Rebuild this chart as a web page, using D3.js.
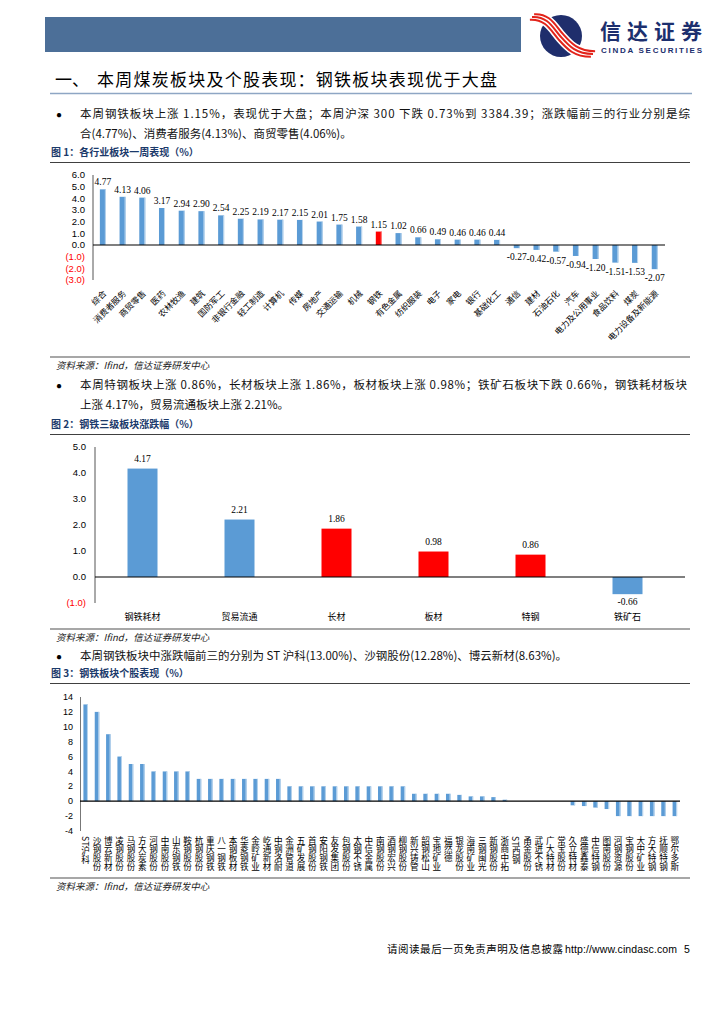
<!DOCTYPE html>
<html><head><meta charset="utf-8">
<script src="https://cdn.jsdelivr.net/npm/d3@7"></script>
<style>body{margin:0;background:#fff}svg{display:block}
.vlabel{writing-mode:vertical-rl;text-orientation:mixed;}
</style>
</head><body>
<svg id="page" width="724" height="1024"></svg>
<script>
// ---------- DATA ----------
const sectorNames = ["综合","消费者服务","商贸零售","医药","农林牧渔","建筑","国防军工","非银行金融","轻工制造","计算机","传媒","房地产","交通运输","机械","钢铁","有色金属","纺织服装","电子","家电","银行","基础化工","通信","建材","石油石化","汽车","电力及公用事业","食品饮料","煤炭","电力设备及新能源"];
const sectorValues = [4.77,4.13,4.06,3.17,2.94,2.90,2.54,2.25,2.19,2.17,2.15,2.01,1.75,1.58,1.15,1.02,0.66,0.49,0.46,0.46,0.44,-0.27,-0.42,-0.57,-0.94,-1.20,-1.51,-1.53,-2.07];
const sectorRed = ["钢铁"];
const sectorTicks = [6,5,4,3,2,1,0,-1,-2,-3];

const subNames = ["钢铁耗材","贸易流通","长材","板材","特钢","铁矿石"];
const subValues = [4.17,2.21,1.86,0.98,0.86,-0.66];
const subRed = ["长材","板材","特钢"];
const subTicks = [5,4,3,2,1,0,-1];

const stockNames = ["ST沪科","沙钢股份","博云新材","凌钢股份","马钢股份","方大炭素","河钢股份","中南股份","山东钢铁","鞍钢股份","杭钢股份","重庆钢铁","八一钢铁","本钢板材","华菱钢铁","金岭矿业","屹通新材","中钢洛耐","金洲管道","五矿发展","首钢股份","安阳钢铁","友发集团","包钢股份","太钢不锈","中信金属","南钢股份","酒钢宏兴","柳钢股份","新兴铸管","韶钢松山","宝地矿业","福然德","银龙股份","海南矿业","三钢闽光","新钢股份","浙商中拓","ST西钢","甬金股份","武进不锈","广大特材","常宝股份","久立特材","盛德鑫泰","中信特钢","图南股份","河钢资源","宝钢股份","大中矿业","方大特钢","抚顺特钢","鄂尔多斯"];
const stockValues = [13,12,9,6,5,5,4,4,4,4,3,3,3,3,3,3,3,3,2,2,2,2,2,2,2,2,2,2,2,1,1,1,1,0.85,0.65,0.65,0.55,0.2,0,0,0,0,0,-0.55,-0.65,-0.85,-1.05,-2,-2,-2,-2,-2,-2];
const stockTicks = [14,12,10,8,6,4,2,0,-2,-4];

// ---------- STYLE ----------
const CJK = "'Noto Sans CJK SC','Noto Sans',sans-serif";
const SERIF = "'Liberation Serif','Noto Sans CJK SC',serif";
const SANS = "'Liberation Sans','Noto Sans CJK SC',sans-serif";
const BLUE = "#5B9BD5", RED = "#FF0000", NAVY = "#1B3A6B";

const svg = d3.select("#page");

// ---------- HEADER ----------
svg.append("rect").attr("x",45).attr("y",17).attr("width",476).attr("height",35).attr("fill","#4C6F98");
const logo = svg.append("g");
logo.append("circle").attr("cx",561).attr("cy",36).attr("r",21).attr("fill","#1F2E6C");
const ribbon = "M532,17 C548,16 553,28 561,37 S576,54 593,54";
logo.append("path").attr("d",ribbon).attr("fill","none").attr("stroke","#fff").attr("stroke-width",12);
[-3.5,0,3.5].forEach(o=>{
  logo.append("path").attr("d",ribbon).attr("transform",`translate(${o*0.6},${-o*0.8})`)
    .attr("fill","none").attr("stroke","#E2231A").attr("stroke-width",2);
});
svg.append("text").attr("x",600).attr("y",39).attr("font-family",CJK).attr("font-weight","bold")
  .attr("font-size",21).attr("fill","#1C2F6E").attr("textLength",102).text("信达证券");
svg.append("text").attr("x",601).attr("y",53).attr("font-family",SANS).attr("font-weight","bold")
  .attr("font-size",8).attr("fill","#1C2F6E").attr("textLength",101).text("CINDA SECURITIES");

// Title
svg.append("text").attr("x",55).attr("y",86).attr("font-family",CJK).attr("font-size",17).attr("fill","#000").text("一、");
svg.append("text").attr("x",97).attr("y",86).attr("font-family",CJK).attr("font-size",17).attr("fill","#000")
  .attr("textLength",400).text("本周煤炭板块及个股表现：钢铁板块表现优于大盘");
svg.append("line").attr("x1",50).attr("x2",692).attr("y1",93.5).attr("y2",93.5).attr("stroke","#8EA6C4").attr("stroke-width",1.5);

function bullet(y, lines){
  svg.append("text").attr("x",56).attr("y",y).attr("font-family",SANS).attr("font-size",10).text("●");
  lines.forEach((l,i)=>{
    const t = svg.append("text").attr("x",80).attr("y",y+i*20).attr("font-family",CJK)
      .attr("font-size",11.5).attr("fill","#111").text(l.t);
    if(l.w) t.attr("textLength",l.w).attr("lengthAdjust","spacing");
  });
}
function caption(y, txt){
  svg.append("text").attr("x",51).attr("y",y).attr("font-family",CJK).attr("font-weight","bold")
    .attr("font-size",10).attr("fill",NAVY).text(txt);
  svg.append("line").attr("x1",50).attr("x2",690).attr("y1",y+6.5).attr("y2",y+6.5).attr("stroke","#404040").attr("stroke-width",1);
}
function source(y){
  svg.append("line").attr("x1",50).attr("x2",690).attr("y1",y).attr("y2",y).attr("stroke","#8a8a8a").attr("stroke-width",1.5);
  svg.append("text").attr("x",56).attr("y",y+12).attr("font-family",CJK).attr("font-style","italic")
    .attr("font-size",9.5).attr("fill","#222").text("资料来源：Ifind，信达证券研发中心");
}
function tickFmt(v, dec){
  const s = Math.abs(v).toFixed(dec);
  return v<0 ? (dec? "("+s+")" : "-"+s) : s;
}

bullet(118,[{t:"本周钢铁板块上涨 1.15%，表现优于大盘；本周沪深 300 下跌 0.73%到 3384.39；涨跌幅前三的行业分别是综",w:610},
            {t:"合(4.77%)、消费者服务(4.13%)、商贸零售(4.06%)。"}]);
caption(156,"图 1：各行业板块一周表现（%）");

// ---------- CHART 1 ----------
{
  const x = d3.scaleBand().domain(sectorNames).range([93, 664.6]);
  const y = d3.scaleLinear().domain([-3,6]).range([280,175]);
  const g = svg.append("g");
  g.selectAll("text.tk").data(sectorTicks).enter().append("text")
    .attr("x",85).attr("y",d=>y(d)).attr("dy","0.35em").attr("text-anchor","end")
    .attr("font-family",SANS).attr("font-size",9.5).attr("fill",d=>d<0?RED:"#000").text(d=>tickFmt(d,1));
  g.append("line").attr("x1",93).attr("x2",93).attr("y1",175).attr("y2",280).attr("stroke","#555");
  const w = 6;
  const bars = g.selectAll("g.b").data(sectorNames.map((n,i)=>({n,v:sectorValues[i]}))).enter().append("g");
  bars.append("rect").attr("x",d=>x(d.n)+(x.bandwidth()-w)/2).attr("width",w)
    .attr("y",d=>y(Math.max(0,d.v))).attr("height",d=>Math.abs(y(d.v)-y(0)))
    .attr("fill",d=>sectorRed.includes(d.n)?RED:BLUE);
  bars.append("rect").attr("x",d=>x(d.n)+(x.bandwidth()+w)/2-1).attr("width",1)
    .attr("y",d=>y(Math.max(0,d.v))).attr("height",d=>Math.abs(y(d.v)-y(0)))
    .attr("fill",d=>sectorRed.includes(d.n)?"#ff8a8a":"#BDD7EE");
  bars.append("text").attr("x",d=>x(d.n)+x.bandwidth()/2)
    .attr("y",d=>d.v>=0? y(d.v)-4 : y(d.v)+12).attr("text-anchor","middle")
    .attr("font-family",SERIF).attr("font-size",9.5).text(d=>d.v.toFixed(2));
  g.append("line").attr("x1",93).attr("x2",665).attr("y1",y(0)).attr("y2",y(0)).attr("stroke","#000").attr("stroke-width",1.2);
  g.selectAll("text.xl").data(sectorNames).enter().append("text")
    .attr("transform",d=>`translate(${x(d)+x.bandwidth()/2+2},292) rotate(-45)`)
    .attr("dy","0.35em").attr("text-anchor","end").attr("font-family",CJK).attr("font-size",8.4).text(d=>d);
}
source(357);

bullet(389,[{t:"本周特钢板块上涨 0.86%，长材板块上涨 1.86%，板材板块上涨 0.98%；铁矿石板块下跌 0.66%，钢铁耗材板块",w:607},
            {t:"上涨 4.17%，贸易流通板块上涨 2.21%。"}]);
caption(428,"图 2：钢铁三级板块涨跌幅（%）");

// ---------- CHART 2 ----------
{
  const x = d3.scaleBand().domain(subNames).range([94, 676]);
  const y = d3.scaleLinear().domain([-1,5]).range([603,447]);
  const g = svg.append("g");
  g.selectAll("text.tk").data(subTicks).enter().append("text")
    .attr("x",86).attr("y",d=>y(d)).attr("dy","0.35em").attr("text-anchor","end")
    .attr("font-family",SANS).attr("font-size",9.5).attr("fill",d=>d<0?RED:"#000").text(d=>tickFmt(d,1));
  g.append("line").attr("x1",95).attr("x2",95).attr("y1",447).attr("y2",603).attr("stroke","#555");
  const w = 30;
  const data = subNames.map((n,i)=>({n,v:subValues[i]}));
  g.selectAll("rect").data(data).enter().append("rect")
    .attr("x",d=>x(d.n)+(x.bandwidth()-w)/2).attr("width",w)
    .attr("y",d=>y(Math.max(0,d.v))).attr("height",d=>Math.abs(y(d.v)-y(0)))
    .attr("fill",d=>subRed.includes(d.n)?RED:BLUE);
  g.selectAll("text.v").data(data).enter().append("text")
    .attr("x",d=>x(d.n)+x.bandwidth()/2).attr("y",d=>d.v>=0? y(d.v)-7 : y(d.v)+11)
    .attr("text-anchor","middle").attr("font-family",SERIF).attr("font-size",9.5).text(d=>d.v.toFixed(2));
  g.append("line").attr("x1",95).attr("x2",685).attr("y1",y(0)).attr("y2",y(0)).attr("stroke","#000").attr("stroke-width",1.2);
  g.selectAll("text.xl").data(subNames).enter().append("text")
    .attr("x",d=>x(d)+x.bandwidth()/2).attr("y",620).attr("text-anchor","middle")
    .attr("font-family",CJK).attr("font-size",9).text(d=>d);
}
source(629);

bullet(660,[{t:"本周钢铁板块中涨跌幅前三的分别为 ST 沪科(13.00%)、沙钢股份(12.28%)、博云新材(8.63%)。"}]);
caption(677,"图 3：钢铁板块个股表现（%）");

// ---------- CHART 3 ----------
{
  const x = d3.scaleBand().domain(stockNames).range([80, 680.5]);
  const y = d3.scaleLinear().domain([-4,14]).range([831,697]);
  const g = svg.append("g");
  g.selectAll("text.tk").data(stockTicks).enter().append("text")
    .attr("x",73).attr("y",d=>y(d)).attr("dy","0.35em").attr("text-anchor","end")
    .attr("font-family",SANS).attr("font-size",9).attr("fill","#000").text(d=>tickFmt(d,0));
  g.append("line").attr("x1",80.5).attr("x2",80.5).attr("y1",697).attr("y2",831).attr("stroke","#777");
  const w = 4.5;
  const data = stockNames.map((n,i)=>({n,v:stockValues[i]}));
  g.selectAll("rect.b").data(data).enter().append("rect")
    .attr("x",d=>x(d.n)+(x.bandwidth()-w)/2).attr("width",w)
    .attr("y",d=>y(Math.max(0,d.v))).attr("height",d=>Math.abs(y(d.v)-y(0)))
    .attr("fill",BLUE);
  g.selectAll("rect.e").data(data).enter().append("rect")
    .attr("x",d=>x(d.n)+(x.bandwidth()+w)/2-1).attr("width",1)
    .attr("y",d=>y(Math.max(0,d.v))).attr("height",d=>Math.abs(y(d.v)-y(0)))
    .attr("fill","#BDD7EE");
  g.append("line").attr("x1",80).attr("x2",680).attr("y1",y(0)).attr("y2",y(0)).attr("stroke","#000").attr("stroke-width",1.2);
  // vertical labels using vertical writing mode (CJK upright, Latin sideways)
  g.selectAll("text.vlabel").data(stockNames).enter().append("text")
    .attr("class","vlabel").attr("writing-mode","tb")
    .attr("x",d=>x(d)+x.bandwidth()/2).attr("y",836)
    .attr("text-anchor","start").attr("font-family",CJK).attr("font-size",8.6)
    .attr("letter-spacing",0.2).text(d=>d);
}
source(878);

// ---------- FOOTER ----------
svg.append("text").attr("x",387).attr("y",953).attr("font-family",CJK).attr("font-size",10.5)
  .attr("textLength",176).text("请阅读最后一页免责声明及信息披露");
svg.append("text").attr("x",565).attr("y",953).attr("font-family",SANS).attr("font-size",10.5)
  .attr("textLength",112).text("http://www.cindasc.com");
svg.append("text").attr("x",684).attr("y",953).attr("font-family",SANS).attr("font-size",10.5).text("5");
</script>
</body></html>
